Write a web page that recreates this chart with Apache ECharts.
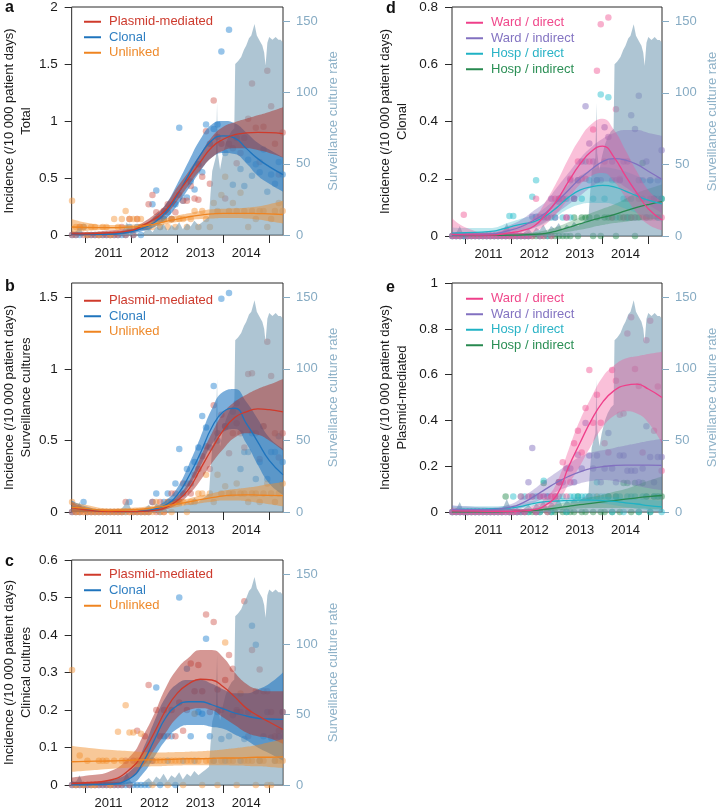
<!DOCTYPE html>
<html><head><meta charset="utf-8">
<script src="https://cdn.jsdelivr.net/npm/echarts@6/dist/echarts.min.js"></script>
<style>html,body{margin:0;padding:0;background:#fff}#c{width:720px;height:810px}</style>
</head><body><div id="c"></div>
<script>
// ---------------- DATA ----------------
const yearTicks = [2011, 2012, 2013, 2014, 2015];
const yearLabelPos = [2011.5, 2012.5, 2013.5, 2014.5];
const firstMonth = 2010 + 8.5 / 12;   // monthly points: mid-Sep 2010 ... mid-Apr 2015
const curveT = [2010.70, 2011.0, 2011.5, 2012.0, 2012.25, 2012.5, 2012.75, 2013.0, 2013.25, 2013.5, 2013.75, 2014.0, 2014.25, 2014.5, 2014.75, 2015.0, 2015.30];

const survT = [2010.70,2010.79,2010.87,2010.95,2011.04,2011.3,2011.6,2011.75,2011.83,2011.9,2011.98,2012.06,2012.14,2012.22,2012.30,2012.38,2012.46,2012.54,2012.62,2012.70,2012.79,2012.87,2012.95,2013.04,2013.12,2013.21,2013.29,2013.37,2013.46,2013.54,2013.62,2013.69,2013.72,2013.76,2013.80,2013.84,2013.865,2013.88,2013.93,2013.98,2014.05,2014.11,2014.18,2014.24,2014.26,2014.32,2014.39,2014.45,2014.50,2014.56,2014.61,2014.68,2014.73,2014.78,2014.85,2014.89,2014.92,2014.96,2015.00,2015.04,2015.07,2015.10,2015.14,2015.20,2015.25,2015.30];
const survRate = [1,2,7,1,0,0,0,1,4,9,3,0,1,0,3,5,2,6,4,8,3,7,5,9,4,8,6,10,7,9,11,13,28,45,50,55,93,58,46,55,64,69,73,75,120,122,125,130,133,138,140,148,140,137,133,128,119,135,139,138,137,138,139,137,137,135];

// Panel a: Total
const aPlasmidPts = [0,0,0.07,0,0,0,0,0,0,0,0,0,0,0.07, 0,0.14,0,0.14,0.07,0.07,0.27,0.35,0.2,0.14,0.21,0.27,0.14,0.2, 0.35,0.3,0.3,0.43,0.32,0.31,0.51,0.91,0.45,1.18,0.86,0.8,0.32,0.8, 0.76,0.63,0.72,0.85,1.02,1.33,0.94,0.64,0.95,1.44,1.13,0.8,0.53,0.9];
const aClonalPts = [0,0,0,0.07,0,0,0,0,0,0,0,0,0,0, 0,0.07,0,0.07,0,0.07,0.07,0.27,0.39,0.07,0.14,0.2,0.14,0.27, 0.94,0.3,0.33,0.47,0.4,0.62,0.55,0.97,0.8,0.93,0.97,1.61,0.72,1.8, 0.44,0.85,0.58,0.43,0.66,0.52,0.62,0.55,0.75,0.38,0.53,0.45,0.64,0.53];
const aUnlinkedPts = [0.3,0.07,0.07,0.07,0,0.07,0.07,0,0.07,0.07,0,0.14,0.07,0.14, 0.21,0.14,0.14,0.14,0.14,0.07,0.07,0.07,0.14,0.07,0.14,0.07,0.14,0.07, 0.14,0.14,0.07,0.14,0.21,0.07,0.21,0.14,0.07,0.28,0.21,0.35,0.51,0.21, 0.28,0.21,0.37,0.21,0.07,0.21,0.14,0.21,0.21,0.07,0.14,0.21,0.28,0.21];
const aPlasmidFit = [0.01,0.01,0.02,0.04,0.085,0.14,0.22,0.36,0.5,0.64,0.77,0.84,0.88,0.895,0.9,0.898,0.89];
const aPlasmidLo  = [0,0,0.005,0.025,0.06,0.11,0.18,0.3,0.44,0.57,0.68,0.74,0.76,0.76,0.745,0.72,0.68];
const aPlasmidHi  = [0.03,0.025,0.04,0.06,0.11,0.18,0.27,0.42,0.56,0.71,0.86,0.95,0.99,1.02,1.05,1.08,1.12];
const aClonalFit = [0.005,0.003,0.005,0.03,0.06,0.11,0.2,0.35,0.53,0.7,0.83,0.87,0.85,0.76,0.67,0.6,0.53];
const aClonalLo  = [0,0,0,0.015,0.035,0.07,0.14,0.26,0.41,0.56,0.68,0.72,0.71,0.63,0.52,0.45,0.38];
const aClonalHi  = [0.02,0.01,0.015,0.05,0.09,0.16,0.27,0.45,0.65,0.84,0.97,1.0,0.98,0.9,0.81,0.75,0.68];
const aUnlinkedFit = [0.07,0.066,0.064,0.07,0.08,0.095,0.12,0.14,0.16,0.175,0.185,0.19,0.19,0.19,0.188,0.185,0.18];
const aUnlinkedLo  = [0.02,0.035,0.045,0.05,0.06,0.075,0.095,0.115,0.13,0.14,0.145,0.15,0.15,0.145,0.135,0.12,0.1];
const aUnlinkedHi  = [0.14,0.11,0.088,0.09,0.1,0.12,0.145,0.17,0.19,0.21,0.225,0.23,0.235,0.24,0.25,0.27,0.3];

// Panel b: Surveillance cultures
const bPlasmidPts = [0,0,0,0,0,0,0,0,0,0,0,0,0,0, 0.07,0,0,0,0,0,0,0.07,0,0.07,0,0.07,0.13,0.13, 0.07,0.2,0.2,0.13,0.26,0.3,0.39,0.46,0.3,0.745,0.55,0.68,0.6,0.41, 0.55,0.62,0.55,0.45,0.965,0.97,0.55,0.37,0.6,1.19,0.95,0.55,0.38,0.55];
const bClonalPts = [0,0,0,0.07,0,0,0,0,0,0,0,0,0,0, 0,0.07,0,0,0,0,0,0.07,0.13,0,0.07,0.13,0.07,0.2, 0.44,0.13,0.3,0.2,0.35,0.45,0.67,0.59,0.45,0.88,0.5,1.49,0.6,1.53, 0.7,0.76,0.3,0.42,0.42,0.55,0.23,0.35,0.6,0.23,0.42,0.42,0.53,0.35];
const bUnlinkedPts = [0.07,0,0,0,0,0,0,0,0,0,0,0,0,0, 0,0,0,0,0,0,0,0,0.07,0,0,0.07,0,0.07, 0.07,0.07,0,0.07,0.07,0.13,0.13,0.26,0.13,0.07,0.26,0.13,0.18,0.13, 0.13,0.2,0.13,0.13,0.07,0.13,0.13,0.07,0.13,0.2,0.13,0.07,0.13,0.2];
const bPlasmidFit = [0.03,0.015,0.003,0.002,0.005,0.012,0.03,0.08,0.16,0.3,0.44,0.57,0.66,0.7,0.72,0.715,0.70];
const bPlasmidLo  = [0,0,0,0,0.002,0.006,0.02,0.055,0.12,0.22,0.34,0.44,0.52,0.55,0.54,0.5,0.43];
const bPlasmidHi  = [0.07,0.03,0.008,0.005,0.01,0.022,0.05,0.11,0.21,0.38,0.55,0.69,0.77,0.82,0.86,0.89,0.93];
const bClonalFit = [0.04,0.02,0.004,0.002,0.006,0.02,0.05,0.12,0.25,0.41,0.59,0.7,0.725,0.62,0.49,0.36,0.26];
const bClonalLo  = [0,0,0,0,0.002,0.01,0.03,0.08,0.18,0.32,0.47,0.56,0.58,0.48,0.33,0.2,0.12];
const bClonalHi  = [0.08,0.04,0.01,0.006,0.014,0.035,0.08,0.17,0.33,0.52,0.72,0.84,0.86,0.77,0.65,0.52,0.44];
const bUnlinkedFit = [0.035,0.025,0.01,0.016,0.022,0.03,0.042,0.056,0.07,0.086,0.1,0.112,0.118,0.12,0.118,0.116,0.114];
const bUnlinkedLo  = [0,0,0,0.005,0.01,0.015,0.025,0.035,0.05,0.062,0.072,0.08,0.08,0.075,0.065,0.055,0.04];
const bUnlinkedHi  = [0.07,0.05,0.025,0.03,0.035,0.045,0.06,0.08,0.095,0.115,0.13,0.148,0.16,0.17,0.18,0.195,0.21];

// Panel c: Clinical cultures
const cPlasmidPts = [0,0,0,0,0,0,0,0,0,0,0,0,0,0, 0.065,0,0.065,0.145,0.065,0.13,0.267,0.065,0.2,0.13,0.2,0.13,0.2,0.13, 0.22,0.145,0.2,0.324,0.25,0.32,0.25,0.455,0.195,0.435,0.255,0.2,0.28,0.347, 0.31,0.2,0.195,0.49,0.13,0.36,0.25,0.308,0.25,0.25,0.195,0.13,0.145,0.195];
const cClonalPts = [0,0,0,0,0,0,0,0,0,0,0,0,0,0, 0,0,0,0,0,0,0,0.065,0.26,0,0.13,0.065,0.13,0, 0.5,0.065,0.31,0.13,0.065,0.195,0.19,0.39,0.13,0.065,0.195,0.123,0.065,0.13, 0.186,0.195,0.065,0.123,0.195,0.425,0.374,0.065,0.13,0.195,0.127,0.065,0.13,0.195];
const cUnlinkedPts = [0.307,0,0.079,0,0.065,0,0,0.065,0.065,0.065,0,0.065,0.142,0.065, 0.213,0.14,0.14,0.065,0.137,0.065,0.065,0,0.065,0.065,0.065,0,0.065,0.065, 0.065,0,0.065,0.065,0.19,0.065,0,0.065,0.065,0.065,0,0.065,0.38,0.065, 0.065,0,0.244,0.065,0.065,0.065,0,0.065,0.065,0,0,0.065,0.065,0.065];
const cPlasmidFit = [0.004,0.006,0.012,0.045,0.085,0.14,0.2,0.245,0.27,0.282,0.28,0.262,0.235,0.205,0.185,0.168,0.148];
const cPlasmidLo  = [0,0,0.002,0.02,0.05,0.095,0.14,0.18,0.2,0.205,0.2,0.18,0.16,0.14,0.13,0.125,0.11];
const cPlasmidHi  = [0.02,0.025,0.035,0.08,0.13,0.19,0.26,0.31,0.34,0.36,0.36,0.34,0.3,0.27,0.255,0.25,0.25];
const cClonalFit = [0,0,0.002,0.02,0.06,0.12,0.18,0.212,0.222,0.222,0.214,0.203,0.192,0.184,0.178,0.176,0.175];
const cClonalLo  = [0,0,0,0.005,0.03,0.075,0.12,0.15,0.16,0.16,0.155,0.15,0.135,0.12,0.1,0.085,0.065];
const cClonalHi  = [0.01,0.006,0.012,0.04,0.095,0.17,0.235,0.27,0.28,0.28,0.27,0.255,0.245,0.245,0.255,0.27,0.3];
const cUnlinkedFit = [0.062,0.063,0.064,0.066,0.067,0.067,0.068,0.069,0.07,0.07,0.071,0.072,0.072,0.073,0.074,0.074,0.075];
const cUnlinkedLo  = [0.035,0.038,0.043,0.047,0.049,0.05,0.051,0.052,0.053,0.053,0.053,0.053,0.052,0.051,0.05,0.048,0.045];
const cUnlinkedHi  = [0.105,0.1,0.094,0.09,0.088,0.087,0.087,0.088,0.089,0.09,0.092,0.095,0.098,0.102,0.107,0.114,0.122];

// Panel d: Clonal by route
const dWardDirPts = [0,0,0,0.074,0,0,0,0,0,0,0,0,0,0, 0,0,0,0,0,0,0,0,0.13,0,0,0.065,0,0.13, 0.13,0.13,0.065,0.2,0.13,0.26,0.2,0.2,0.26,0.372,0.577,0.74,0.26,0.763, 0.065,0.443,0.2,0.065,0.13,0.065,0.065,0.13,0.065,0.065,0.13,0.065,0.13,0.065];
const dWardIndPts = [0,0,0,0,0,0,0,0,0,0,0,0,0,0, 0,0,0,0,0,0,0,0.067,0.067,0.067,0.067,0.065,0.13,0.065, 0.12,0.13,0.065,0.195,0.13,0.195,0.26,0.453,0.323,0.26,0.195,0.195,0.38,0.346, 0.26,0.195,0.195,0.26,0.26,0.422,0.374,0.49,0.195,0.26,0.195,0.13,0.195,0.3];
const dHospDirPts = [0,0,0,0,0,0,0,0,0,0,0,0,0,0, 0,0.07,0.07,0,0,0,0,0.137,0.195,0,0.065,0,0.065,0.065, 0.13,0.065,0.13,0.065,0.13,0.195,0.13,0.26,0.195,0.13,0.195,0.494,0.13,0.485, 0.195,0.065,0.195,0.13,0.065,0.13,0.065,0.195,0.13,0.065,0.195,0.13,0.065,0.13];
const dHospIndPts = [0,0,0,0,0,0,0,0,0,0,0,0,0,0, 0,0,0,0,0,0,0,0,0,0,0,0,0,0, 0,0,0,0,0.065,0,0.065,0.065,0.065,0,0.065,0,0.065,0.065, 0.065,0,0.065,0.065,0.065,0.065,0,0.065,0.255,0.065,0.065,0.13,0.065,0.13];
const dWardDirFit = [0.006,0.004,0.003,0.012,0.02,0.035,0.075,0.125,0.19,0.25,0.295,0.314,0.275,0.21,0.15,0.095,0.056];
const dWardDirLo  = [0,0,0,0.003,0.008,0.015,0.04,0.08,0.13,0.18,0.21,0.22,0.19,0.135,0.08,0.04,0.02];
const dWardDirHi  = [0.062,0.03,0.012,0.03,0.04,0.065,0.12,0.19,0.27,0.34,0.39,0.41,0.37,0.3,0.225,0.16,0.12];
const dWardIndFit = [0.003,0.004,0.006,0.021,0.035,0.056,0.08,0.12,0.16,0.2,0.232,0.26,0.27,0.265,0.25,0.226,0.198];
const dWardIndLo  = [0,0,0,0.005,0.015,0.03,0.05,0.08,0.11,0.14,0.17,0.19,0.19,0.17,0.14,0.11,0.08];
const dWardIndHi  = [0.015,0.012,0.015,0.04,0.06,0.09,0.12,0.17,0.22,0.27,0.31,0.34,0.36,0.37,0.37,0.36,0.35];
const dHospDirFit = [0.01,0.012,0.015,0.033,0.042,0.05,0.07,0.1,0.135,0.16,0.172,0.177,0.172,0.157,0.14,0.125,0.112];
const dHospDirLo  = [0,0,0.005,0.015,0.022,0.028,0.045,0.07,0.095,0.11,0.115,0.115,0.11,0.095,0.08,0.065,0.05];
const dHospDirHi  = [0.03,0.028,0.028,0.05,0.062,0.075,0.1,0.135,0.18,0.21,0.23,0.24,0.235,0.225,0.21,0.2,0.2];
const dHospIndFit = [0.001,0.001,0.002,0.003,0.004,0.006,0.009,0.018,0.03,0.042,0.055,0.065,0.075,0.088,0.1,0.11,0.12];
const dHospIndLo  = [0,0,0,0,0,0.001,0.003,0.008,0.015,0.022,0.03,0.038,0.045,0.05,0.055,0.058,0.06];
const dHospIndHi  = [0.005,0.005,0.006,0.008,0.01,0.013,0.02,0.032,0.048,0.065,0.08,0.095,0.11,0.13,0.15,0.165,0.18];

// Panel e: Plasmid-mediated by route
const eWardDirPts = [0,0,0,0,0,0,0,0,0,0,0,0,0,0, 0,0,0,0,0.068,0,0.068,0.068,0,0.068,0.068,0,0.068,0.068, 0.13,0.217,0.068,0.13,0.3,0.355,0.26,0.454,0.62,0.39,0.512,0.39,0.3,0.26, 0.62,0.573,0.425,0.43,0.78,0.85,0.624,0.55,0.26,0.75,0.835,0.355,0.548,0.18];
const eWardIndPts = [0,0,0,0,0,0,0,0,0,0,0,0,0,0, 0,0,0,0,0,0,0.13,0.28,0,0.068,0.068,0.068,0.068,0.068, 0.13,0.13,0.19,0.19,0.13,0.25,0.19,0.389,0.247,0.19,0.247,0.13,0.19,0.345, 0.19,0.13,0.247,0.247,0.18,0.18,0.18,0.13,0.19,0.374,0.24,0.13,0.24,0.24];
const eHospDirPts = [0,0,0,0,0,0,0,0,0,0,0,0,0,0, 0,0,0.068,0,0.068,0.068,0,0.068,0.068,0,0.137,0.068,0,0.068, 0.068,0.068,0,0.068,0.068,0.068,0.068,0.068,0.068,0.068,0.13,0.068,0.068,0.068, 0,0.068,0.068,0,0.068,0.068,0.068,0,0.068,0.068,0,0.068,0.068,0];
const eHospIndPts = [0,0,0,0,0,0,0,0,0,0,0,0,0,0, 0.068,0,0,0,0,0,0,0,0,0,0.127,0,0,0, 0.13,0,0,0,0,0.068,0,0,0.068,0,0.068,0,0,0.068, 0,0.068,0,0.127,0.127,0,0.127,0,0.127,0.068,0,0.068,0.068,0.068];
const eWardDirFit = [0.005,0.004,0.003,0.003,0.005,0.01,0.03,0.075,0.195,0.3,0.4,0.48,0.53,0.553,0.558,0.537,0.5];
const eWardDirLo  = [0,0,0,0,0,0.002,0.012,0.04,0.12,0.2,0.29,0.37,0.42,0.44,0.43,0.39,0.3];
const eWardDirHi  = [0.02,0.012,0.008,0.01,0.014,0.03,0.06,0.13,0.27,0.4,0.5,0.59,0.64,0.67,0.68,0.69,0.7];
const eWardIndFit = [0.01,0.01,0.01,0.022,0.04,0.068,0.1,0.13,0.155,0.175,0.19,0.198,0.203,0.205,0.205,0.205,0.204];
const eWardIndLo  = [0,0,0.002,0.01,0.02,0.04,0.065,0.09,0.11,0.125,0.135,0.14,0.135,0.125,0.115,0.105,0.095];
const eWardIndHi  = [0.03,0.025,0.02,0.035,0.065,0.1,0.14,0.175,0.21,0.24,0.26,0.27,0.28,0.29,0.3,0.31,0.32];
const eHospDirFit = [0.01,0.012,0.014,0.018,0.026,0.038,0.045,0.048,0.05,0.052,0.052,0.05,0.046,0.04,0.035,0.028,0.022];
const eHospDirLo  = [0,0.002,0.005,0.01,0.016,0.026,0.033,0.036,0.038,0.04,0.04,0.036,0.03,0.022,0.015,0.008,0.004];
const eHospDirHi  = [0.025,0.025,0.025,0.028,0.038,0.05,0.057,0.06,0.062,0.065,0.066,0.066,0.064,0.06,0.058,0.054,0.05];
const eHospIndFit = [0,0,0,0.002,0.004,0.007,0.012,0.018,0.025,0.032,0.038,0.044,0.05,0.056,0.062,0.067,0.072];
const eHospIndLo  = [0,0,0,0,0.001,0.002,0.005,0.008,0.012,0.015,0.017,0.018,0.018,0.017,0.015,0.013,0.01];
const eHospIndHi  = [0.002,0.002,0.003,0.006,0.01,0.016,0.025,0.035,0.045,0.055,0.065,0.075,0.088,0.1,0.118,0.136,0.155];

// ---------------- STYLE / LAYOUT ----------------
const FONT = '"Liberation Sans", Arial, Helvetica, sans-serif';
const XMIN = 2010.70, XMAX = 2015.30;
const SURV_MAX = 160;
const survColor = '#86abc3';
const STYLE = {
  'Plasmid-mediated': {line:'#cf3a2b', band:'rgba(172,48,42,0.5)', pt:'rgba(210,95,85,0.6)', text:'#cd3b2e'},
  'Clonal':           {line:'#1f74bd', band:'rgba(35,120,195,0.6)', pt:'rgba(45,135,210,0.62)', text:'#2f7fc2'},
  'Unlinked':         {line:'#ef8420', band:'rgba(240,140,40,0.48)', pt:'rgba(245,150,60,0.6)', text:'#ee8a2c'},
  'Ward / direct':    {line:'#ef3f8a', band:'rgba(240,80,150,0.36)', pt:'rgba(240,90,150,0.6)', text:'#f0498c'},
  'Ward / indirect':  {line:'#8270c0', band:'rgba(125,105,185,0.36)', pt:'rgba(130,110,190,0.6)', text:'#8474c2'},
  'Hosp / direct':    {line:'#1fb2c4', band:'rgba(40,180,200,0.3)', pt:'rgba(40,190,205,0.6)', text:'#2ab3c6'},
  'Hosp / indirect':  {line:'#27894f', band:'rgba(40,140,80,0.3)', pt:'rgba(40,140,80,0.6)', text:'#2b8f55'}
};

const panels = [
  {letter:'a', grid:{left:70, top:5, width:213, height:230}, ymax:2, yTicks:[0,0.5,1,1.5,2], sub:'Total', nameGap:36,
   legend:{left:84, top:14}, legendOrder:['Plasmid-mediated','Clonal','Unlinked'],
   groups:[['Clonal',aClonalPts,aClonalFit,aClonalLo,aClonalHi],['Plasmid-mediated',aPlasmidPts,aPlasmidFit,aPlasmidLo,aPlasmidHi],['Unlinked',aUnlinkedPts,aUnlinkedFit,aUnlinkedLo,aUnlinkedHi]]},
  {letter:'b', grid:{left:70, top:283, width:213, height:229}, ymax:1.6, yTicks:[0,0.5,1,1.5], sub:'Surveillance cultures', nameGap:36,
   legend:{left:84, top:293}, legendOrder:['Plasmid-mediated','Clonal','Unlinked'],
   groups:[['Clonal',bClonalPts,bClonalFit,bClonalLo,bClonalHi],['Plasmid-mediated',bPlasmidPts,bPlasmidFit,bPlasmidLo,bPlasmidHi],['Unlinked',bUnlinkedPts,bUnlinkedFit,bUnlinkedLo,bUnlinkedHi]]},
  {letter:'c', grid:{left:70, top:560, width:213, height:228}, ymax:0.6, yTicks:[0,0.1,0.2,0.3,0.4,0.5,0.6], sub:'Clinical cultures', nameGap:36,
   legend:{left:84, top:567}, legendOrder:['Plasmid-mediated','Clonal','Unlinked'],
   groups:[['Clonal',cClonalPts,cClonalFit,cClonalLo,cClonalHi],['Plasmid-mediated',cPlasmidPts,cPlasmidFit,cPlasmidLo,cPlasmidHi],['Unlinked',cUnlinkedPts,cUnlinkedFit,cUnlinkedLo,cUnlinkedHi]]},
  {letter:'d', grid:{left:452, top:6, width:212, height:230}, ymax:0.8, yTicks:[0,0.2,0.4,0.6,0.8], sub:'Clonal', nameGap:41,
   legend:{left:466, top:15}, legendOrder:['Ward / direct','Ward / indirect','Hosp / direct','Hosp / indirect'],
   groups:[['Hosp / indirect',dHospIndPts,dHospIndFit,dHospIndLo,dHospIndHi],['Hosp / direct',dHospDirPts,dHospDirFit,dHospDirLo,dHospDirHi],['Ward / indirect',dWardIndPts,dWardIndFit,dWardIndLo,dWardIndHi],['Ward / direct',dWardDirPts,dWardDirFit,dWardDirLo,dWardDirHi]]},
  {letter:'e', grid:{left:452, top:283, width:212, height:229}, ymax:1, yTicks:[0,0.2,0.4,0.6,0.8,1], sub:'Plasmid-mediated', nameGap:41,
   legend:{left:466, top:291}, legendOrder:['Ward / direct','Ward / indirect','Hosp / direct','Hosp / indirect'],
   groups:[['Hosp / indirect',eHospIndPts,eHospIndFit,eHospIndLo,eHospIndHi],['Hosp / direct',eHospDirPts,eHospDirFit,eHospDirLo,eHospDirHi],['Ward / indirect',eWardIndPts,eWardIndFit,eWardIndLo,eWardIndHi],['Ward / direct',eWardDirPts,eWardDirFit,eWardDirLo,eWardDirHi]]}
];
const letterPos = {a:{left:5,top:0}, b:{left:5,top:279}, c:{left:5,top:554}, d:{left:386,top:1}, e:{left:386,top:280}};

// ---------------- BUILD ----------------
const fmt = v => String(+(+v).toFixed(2));
const grid = [], xAxis = [], yAxis = [], series = [], legend = [], title = [];

panels.forEach((p, k) => {
  grid.push(Object.assign({show:true, borderColor:'#2a2a2a', borderWidth:1, backgroundColor:'transparent'}, p.grid));
  xAxis.push({
    gridIndex:k, type:'value', min:XMIN, max:XMAX,
    axisLine:{show:false}, splitLine:{show:false},
    axisTick:{show:true, inside:false, length:8, customValues:yearTicks, lineStyle:{color:'#2a2a2a'}},
    axisLabel:{customValues:yearLabelPos, formatter:v => String(Math.floor(v)), fontSize:13, fontFamily:FONT, color:'#1a1a1a', margin:12}
  });
  yAxis.push({
    gridIndex:k, type:'value', min:0, max:p.ymax, position:'left',
    axisLine:{show:false}, splitLine:{show:false},
    axisTick:{show:true, inside:false, length:7, customValues:p.yTicks, lineStyle:{color:'#2a2a2a'}},
    axisLabel:{customValues:p.yTicks, formatter:fmt, fontSize:13.5, fontFamily:FONT, color:'#1a1a1a', margin:14},
    name:'Incidence (/10 000 patient days)\n' + p.sub, nameLocation:'middle', nameRotate:90, nameGap:p.nameGap,
    nameTextStyle:{fontSize:13, fontFamily:FONT, color:'#1a1a1a', lineHeight:17}
  });
  yAxis.push({
    gridIndex:k, type:'value', min:0, max:SURV_MAX, position:'right',
    axisLine:{show:false}, splitLine:{show:false},
    axisTick:{show:true, inside:false, length:7, customValues:[0,50,100,150], lineStyle:{color:survColor}},
    axisLabel:{customValues:[0,50,100,150], fontSize:13, fontFamily:FONT, color:survColor, margin:13},
    name:'Surveillance culture rate', nameLocation:'middle', nameRotate:90, nameGap:44,
    nameTextStyle:{fontSize:13, fontFamily:FONT, color:'#8fb2c8'}
  });
  const xi = k, yl = 2*k, yr = 2*k + 1;
  // surveillance culture rate area
  series.push({
    type:'line', name:'surv'+k, xAxisIndex:xi, yAxisIndex:yr, silent:true,
    data: survT.map((t,i) => [t, survRate[i]]), symbol:'none',
    lineStyle:{width:0, opacity:0}, areaStyle:{color:'rgba(120,158,182,0.6)', opacity:1}
  });
  // monthly observations
  p.groups.forEach(g => {
    const st = STYLE[g[0]];
    series.push({
      type:'scatter', name:g[0]+' obs '+k, xAxisIndex:xi, yAxisIndex:yl, silent:true,
      data: g[1].map((v,i) => [firstMonth + i/12, v]), symbolSize:6.5,
      itemStyle:{color:st.pt}
    });
  });
  // fitted bands and lines
  p.groups.forEach(g => {
    const st = STYLE[g[0]];
    const stackId = 'band' + k + g[0];
    series.push({
      type:'line', name:g[0]+' lo '+k, xAxisIndex:xi, yAxisIndex:yl, stack:stackId, silent:true,
      data: curveT.map((t,i) => [g[3][i], t]), encode:{x:1, y:0},
      smooth:0.5, symbol:'none', lineStyle:{width:0, opacity:0}
    });
    series.push({
      type:'line', name:g[0]+' hi '+k, xAxisIndex:xi, yAxisIndex:yl, stack:stackId, silent:true,
      data: curveT.map((t,i) => [g[4][i] - g[3][i], t]), encode:{x:1, y:0},
      smooth:0.5, symbol:'none', lineStyle:{width:0, opacity:0},
      areaStyle:{color:st.band, opacity:1}
    });
    series.push({
      type:'line', name:g[0], xAxisIndex:xi, yAxisIndex:yl, silent:true, color:st.line,
      data: curveT.map((t,i) => [t, g[2][i]]), smooth:0.5, symbol:'none',
      lineStyle:{width:1.3, color:st.line}, itemStyle:{color:st.line}
    });
  });
  legend.push({
    orient:'vertical', left:p.legend.left, top:p.legend.top, itemGap:0, itemWidth:17, itemHeight:2,
    icon:'rect', selectedMode:false, padding:0,
    textStyle:{fontSize:13, fontFamily:FONT, lineHeight:15.5, padding:[0,0,0,3]},
    data: p.legendOrder.map(n => ({name:n, textStyle:{color:STYLE[n].text}}))
  });
  title.push({text:p.letter, left:letterPos[p.letter].left, top:letterPos[p.letter].top, padding:0,
    textStyle:{fontSize:16, fontWeight:'bold', fontFamily:FONT, color:'#111'}});
});

const chart = echarts.init(document.getElementById('c'), null, {renderer:'canvas'});
chart.setOption({animation:false, backgroundColor:'#fff', title, legend, grid, xAxis, yAxis, series});
</script></body></html>
